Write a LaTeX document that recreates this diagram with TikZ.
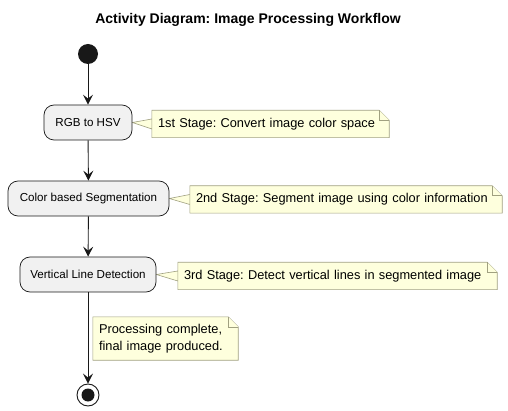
\documentclass[tikz,border=0pt]{standalone}
\usepackage{fontspec}
\setmainfont{Liberation Sans}
\usetikzlibrary{arrows.meta,backgrounds}
\definecolor{actfill}{HTML}{F1F1F1}
\definecolor{actline}{HTML}{181818}
\definecolor{notefill}{HTML}{FEFFDD}
\definecolor{noteline}{RGB}{160,160,128}
\tikzset{
  act/.style={draw=actline,line width=0.7pt,fill=actfill,rounded corners=10pt,minimum height=35pt,inner sep=0pt,font=\fontsize{11.6}{13}\selectfont},
  notetext/.style={inner sep=0pt,minimum height=27pt,font=\fontsize{12.8}{17.5}\selectfont,align=left},
  noteshape/.style={draw=noteline,line width=0.6pt,fill=notefill},
  flow/.style={draw=actline,line width=0.9pt,-{Stealth[length=10pt,width=10pt,inset=4pt]}},
}
\frenchspacing
\begin{document}
\begin{tikzpicture}[x=1pt,y=-1pt]
\useasboundingbox (0,0) rectangle (508,411);
\node[font=\bfseries\fontsize{14}{16}\selectfont] (title) at (248,20) {Activity Diagram: Image Processing Workflow};
\node[circle,fill=actline,minimum size=20pt,inner sep=0pt] (start) at (88,54) {};
\node[act,minimum width=88pt] (rgb) at (88,122.5) {RGB to HSV};
\node[act,minimum width=161pt] (seg) at (88.5,198.5) {Color based Segmentation};
\node[act,minimum width=136pt] (vld) at (88,274.5) {Vertical Line Detection};
\node[circle,draw=actline,line width=0.9pt,fill=white,minimum size=22pt,inner sep=0pt] (end) at (88,395) {};
\node[circle,fill=actline,minimum size=13pt,inner sep=0pt] (endin) at (end.center) {};

\node[notetext,minimum width=237pt,text width=225pt] (n1) at (270.5,124) {1st Stage: Convert image color space};
\node[notetext,minimum width=312pt,text width=300pt] (n2) at (346,199.5) {2nd Stage: Segment image using color information};
\node[notetext,minimum width=319pt,text width=307pt] (n3) at (337.5,276) {3rd Stage: Detect vertical lines in segmented image};
\node[notetext,minimum width=145pt,minimum height=43pt,text width=133pt] (n4) at (165.5,338.5) {Processing complete,\\final image produced.};

\begin{scope}[on background layer]
\draw[noteshape] (n1.south west) -- ([yshift=5pt]n1.west) -- (rgb.east) -- ([yshift=-5pt]n1.west) -- (n1.north west) -- ([xshift=-10pt]n1.north east) -- ([yshift=-10pt]n1.north east) -- (n1.south east) -- cycle;
\draw[noteshape] ([xshift=-10pt]n1.north east) -- ([xshift=-10pt,yshift=-10pt]n1.north east) -- ([yshift=-10pt]n1.north east);
\draw[noteshape] (n2.south west) -- ([yshift=5pt]n2.west) -- (seg.east) -- ([yshift=-5pt]n2.west) -- (n2.north west) -- ([xshift=-10pt]n2.north east) -- ([yshift=-10pt]n2.north east) -- (n2.south east) -- cycle;
\draw[noteshape] ([xshift=-10pt]n2.north east) -- ([xshift=-10pt,yshift=-10pt]n2.north east) -- ([yshift=-10pt]n2.north east);
\draw[noteshape] (n3.south west) -- ([yshift=5pt]n3.west) -- (vld.east) -- ([yshift=-5pt]n3.west) -- (n3.north west) -- ([xshift=-10pt]n3.north east) -- ([yshift=-10pt]n3.north east) -- (n3.south east) -- cycle;
\draw[noteshape] ([xshift=-10pt]n3.north east) -- ([xshift=-10pt,yshift=-10pt]n3.north east) -- ([yshift=-10pt]n3.north east);
\draw[noteshape] (n4.south west) -- (n4.north west) -- ([xshift=-10pt]n4.north east) -- ([yshift=-10pt]n4.north east) -- (n4.south east) -- cycle;
\draw[noteshape] ([xshift=-10pt]n4.north east) -- ([xshift=-10pt,yshift=-10pt]n4.north east) -- ([yshift=-10pt]n4.north east);
\end{scope}

\draw[flow] (start) -- (rgb);
\draw[flow] (rgb) -- (seg);
\draw[flow] (seg) -- (vld);
\draw[flow] (vld) -- (end);
\end{tikzpicture}
\end{document}
